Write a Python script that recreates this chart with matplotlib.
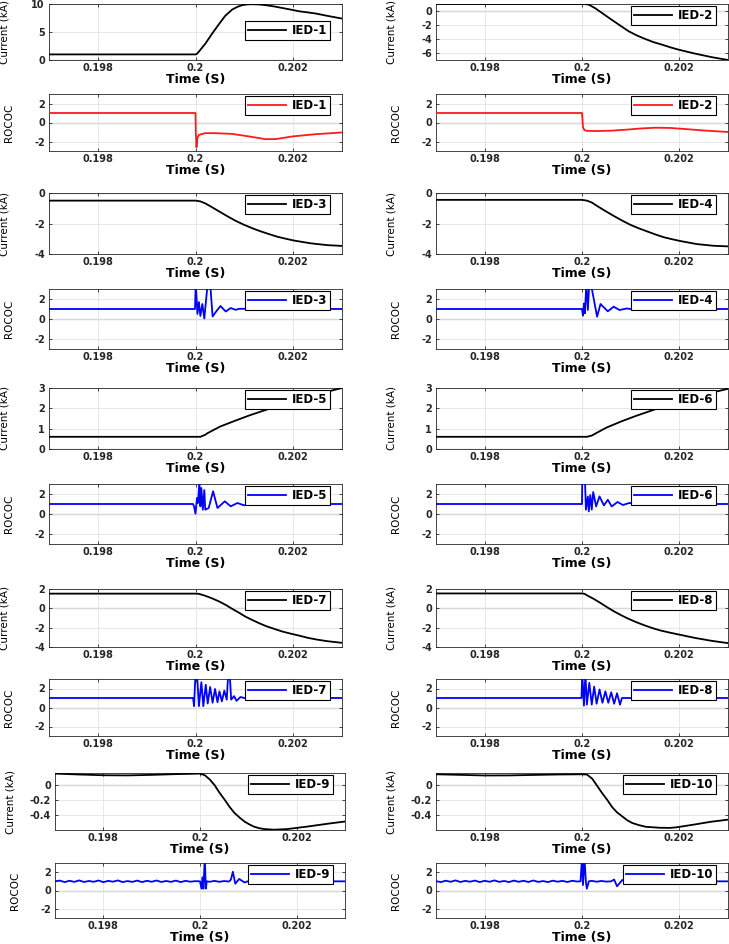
import numpy as np
import matplotlib.pyplot as plt
from matplotlib.ticker import FuncFormatter

# ---------------- current traces (kA) ----------------
IED1_T = [0.197, 0.1985, 0.2, 0.20003, 0.20007, 0.2002, 0.20034, 0.20048, 0.20061, 0.20075,
          0.20086, 0.20096, 0.20106, 0.20116, 0.2013, 0.20143, 0.2016, 0.20177, 0.20195,
          0.20212, 0.2023, 0.20246, 0.20272, 0.203]
IED1_I = [1.0, 1.0, 1.0, 1.1, 1.5, 2.9, 4.7, 6.4, 7.9, 9.0,
          9.5, 9.8, 9.93, 9.96, 9.92, 9.8, 9.58, 9.3, 9.0,
          8.7, 8.5, 8.3, 7.85, 7.4]

IED2_T = [0.197, 0.2, 0.20007, 0.20014, 0.20027, 0.2004, 0.20062, 0.2008, 0.20096, 0.20113,
          0.2013, 0.20147, 0.20164, 0.20182, 0.202, 0.20233, 0.20267, 0.203]
IED2_I = [1.0, 1.0, 0.98, 0.9, 0.4, -0.23, -1.3, -2.15, -2.9, -3.5,
          -4.0, -4.45, -4.8, -5.2, -5.55, -6.1, -6.6, -7.0]

IED3_T = [0.197, 0.2, 0.2001, 0.2002, 0.20031, 0.20048, 0.20065, 0.20082, 0.20099, 0.20117,
          0.20134, 0.20151, 0.20168, 0.20185, 0.20202, 0.20236, 0.2027, 0.203]
IED3_I = [-0.5, -0.5, -0.55, -0.68, -0.88, -1.2, -1.52, -1.82, -2.08, -2.32,
          -2.52, -2.7, -2.87, -3.0, -3.12, -3.3, -3.42, -3.47]

IED4_T = [0.197, 0.2, 0.2001, 0.2002, 0.20031, 0.20048, 0.20065, 0.20082, 0.20099, 0.20117,
          0.20134, 0.20151, 0.20168, 0.20185, 0.20202, 0.20236, 0.2027, 0.203]
IED4_I = [-0.45, -0.45, -0.5, -0.62, -0.85, -1.18, -1.5, -1.8, -2.08, -2.32,
          -2.52, -2.72, -2.9, -3.03, -3.15, -3.35, -3.46, -3.5]

IED5_T = [0.197, 0.2001, 0.2002, 0.20024, 0.2005, 0.2008, 0.2011, 0.2015, 0.2018, 0.202,
          0.2025, 0.203]
IED5_I = [0.6, 0.6, 0.7, 0.77, 1.1, 1.38, 1.65, 1.97, 2.2, 2.38,
          2.7, 3.0]

IED6_T = [0.197, 0.2001, 0.2002, 0.20026, 0.2005, 0.2008, 0.2011, 0.2015, 0.2018, 0.202,
          0.2025, 0.203]
IED6_I = [0.6, 0.6, 0.66, 0.74, 1.05, 1.35, 1.62, 1.95, 2.18, 2.35,
          2.68, 2.96]

IED7_T = [0.197, 0.2, 0.20007, 0.2002, 0.20034, 0.20048, 0.20062, 0.20075, 0.20089, 0.20102,
          0.20116, 0.2013, 0.20144, 0.20161, 0.20178, 0.20195, 0.20212, 0.2023, 0.20247,
          0.2027, 0.203]
IED7_I = [1.52, 1.52, 1.5, 1.3, 1.03, 0.72, 0.35, -0.05, -0.45, -0.85,
          -1.2, -1.53, -1.83, -2.12, -2.4, -2.62, -2.82, -3.05, -3.22,
          -3.4, -3.57]

IED8_T = [0.197, 0.2, 0.20005, 0.20012, 0.20025, 0.20039, 0.20052, 0.20066, 0.2008, 0.20094,
          0.20111, 0.20128, 0.20145, 0.20162, 0.20181, 0.202, 0.20231, 0.20265, 0.203]
IED8_I = [1.54, 1.54, 1.5, 1.3, 0.95, 0.52, 0.1, -0.32, -0.7, -1.05,
          -1.42, -1.75, -2.05, -2.3, -2.52, -2.72, -3.05, -3.35, -3.6]

IED9_T = [0.197, 0.1975, 0.198, 0.1985, 0.199, 0.1995, 0.2, 0.2001, 0.2002, 0.2003,
          0.2004, 0.20051, 0.20061, 0.20071, 0.20082, 0.20092, 0.20102, 0.20112, 0.20122,
          0.20132, 0.20153, 0.2018, 0.2022, 0.20268, 0.203]
IED9_I = [0.152, 0.14, 0.13, 0.128, 0.135, 0.145, 0.152, 0.13, 0.075, 0.0,
          -0.1, -0.196, -0.29, -0.37, -0.435, -0.487, -0.525, -0.556, -0.575,
          -0.587, -0.596, -0.588, -0.556, -0.513, -0.487]

IED10_T = [0.197, 0.1975, 0.198, 0.1985, 0.199, 0.1995, 0.2, 0.2001, 0.20021, 0.20031,
           0.20041, 0.20052, 0.20062, 0.20072, 0.20083, 0.20093, 0.20103, 0.20117, 0.20131,
           0.20159, 0.2018, 0.20193, 0.20228, 0.20265, 0.203]
IED10_I = [0.143, 0.135, 0.127, 0.128, 0.134, 0.14, 0.143, 0.14, 0.084, -0.01,
           -0.105, -0.2, -0.295, -0.365, -0.42, -0.47, -0.506, -0.535, -0.557,
           -0.57, -0.572, -0.565, -0.53, -0.49, -0.462]

# ---------------- ROCOC traces ----------------
IED1_RT = [0.197, 0.2, 0.200005, 0.20002, 0.20004, 0.20007, 0.2002, 0.2004, 0.20075,
           0.2011, 0.20143, 0.20164, 0.20198, 0.20246, 0.203]
IED1_R = [1.0, 1.0, -1.0, -2.6, -1.6, -1.3, -1.12, -1.12, -1.2,
          -1.47, -1.75, -1.75, -1.47, -1.23, -1.05]

IED2_RT = [0.197, 0.2, 0.20002, 0.20005, 0.2001, 0.2003, 0.2006, 0.2009, 0.2012, 0.2015,
           0.2018, 0.2021, 0.2025, 0.203]
IED2_R = [1.0, 1.0, -0.5, -0.8, -0.88, -0.9, -0.86, -0.76, -0.63, -0.55,
          -0.57, -0.68, -0.84, -1.0]

IED3_RT = [0.197, 0.19999, 0.200005, 0.20004, 0.20007, 0.2001, 0.20014, 0.20018, 0.20025,
           0.2003, 0.20035, 0.2004, 0.20051, 0.20062, 0.20072, 0.20082, 0.2009, 0.203]
IED3_R = [1.0, 1.0, 3.6, 0.5, 1.7, 0.3, 1.5, 0.05, 3.6,
          3.6, 0.25, 0.6, 1.3, 0.75, 1.1, 0.92, 1.02, 1.0]

IED4_RT = [0.197, 0.2, 0.20002, 0.20004, 0.20006, 0.20009, 0.20012, 0.20015, 0.20018,
           0.20031, 0.20038, 0.20053, 0.20065, 0.20077, 0.20092, 0.201, 0.203]
IED4_R = [1.0, 1.0, 0.33, 1.55, 0.57, 3.6, 0.9, 3.6, 3.6,
          0.23, 1.5, 0.77, 1.23, 0.9, 1.05, 1.0, 1.0]

IED5_RT = [0.197, 0.19995, 0.19997, 0.2, 0.20003, 0.20005, 0.20008, 0.2001, 0.20012, 0.20015,
           0.20018, 0.2002, 0.20027, 0.20036, 0.20045, 0.2006, 0.20072, 0.20086, 0.20099,
           0.20116, 0.203]
IED5_R = [1.0, 1.0, 0.77, 0.03, 1.6, 1.1, 3.2, 0.77, 2.6, 0.43,
          2.4, 0.43, 0.6, 2.27, 0.6, 1.27, 0.77, 1.1, 0.87,
          1.0, 1.0]

IED6_RT = [0.197, 0.2, 0.200005, 0.20006, 0.20008, 0.20012, 0.20014, 0.20017, 0.2002,
           0.20023, 0.20029, 0.20036, 0.20045, 0.20053, 0.20061, 0.20073, 0.20084, 0.20097,
           0.2011, 0.203]
IED6_R = [1.0, 1.0, 3.6, 3.6, 0.43, 1.75, 0.26, 1.9, 0.43,
          2.2, 0.76, 1.76, 0.86, 1.42, 0.76, 1.2, 0.9, 1.1,
          1.0, 1.0]

IED7_RT = [0.197, 0.19995, 0.19997, 0.2, 0.20003, 0.20007, 0.20012, 0.20016, 0.20021,
           0.20025, 0.2003, 0.20035, 0.2004, 0.20045, 0.20049, 0.20054, 0.20059, 0.20064,
           0.20067, 0.2007, 0.20073, 0.20079, 0.20084, 0.20092, 0.20103, 0.20116, 0.203]
IED7_R = [1.0, 1.0, 0.14, 3.6, 3.6, 0.14, 2.67, 0.14, 2.4,
          0.42, 2.16, 0.5, 1.95, 0.56, 1.7, 0.65, 1.77, 0.83,
          3.6, 3.6, 0.83, 1.2, 0.7, 1.1, 0.97, 1.0, 1.0]

IED8_RT = [0.197, 0.19999, 0.200005, 0.20004, 0.20007, 0.2001, 0.20015, 0.2002, 0.20025,
           0.2003, 0.20036, 0.20042, 0.20048, 0.20054, 0.2006, 0.20066, 0.20072, 0.20078,
           0.20082, 0.203]
IED8_R = [1.0, 1.0, 3.6, 0.2, 3.6, 0.3, 2.6, 0.3, 2.2,
          0.4, 1.9, 0.5, 1.7, 0.5, 1.6, 0.4, 1.5, 0.3,
          1.0, 1.0]

# pre-fault sampling instants for the noisy ROCOC of IED-9 / IED-10
PRE_T = [0.1970, 0.1971, 0.1972, 0.1973, 0.1974, 0.1975, 0.1976, 0.1977, 0.1978, 0.1979,
         0.1980, 0.1981, 0.1982, 0.1983, 0.1984, 0.1985, 0.1986, 0.1987, 0.1988, 0.1989,
         0.1990, 0.1991, 0.1992, 0.1993, 0.1994, 0.1995, 0.1996, 0.1997, 0.1998, 0.1999]

IED9_RT = PRE_T + [0.2, 0.20003, 0.20005, 0.20007, 0.2001, 0.20012, 0.20014, 0.2002, 0.2003,
                   0.2004, 0.2005, 0.2006, 0.20064, 0.20068, 0.20073, 0.20081, 0.20092,
                   0.20105, 0.20119, 0.20132, 0.203]
IED9_R = [1.0, 1.08, 0.92, 1.06, 0.94, 1.1, 0.93, 1.04, 0.95, 1.09,
          0.91, 1.05, 0.96, 1.1, 0.92, 1.03, 0.94, 1.08, 0.92, 1.06,
          0.95, 1.09, 0.93, 1.04, 0.94, 1.08, 0.92, 1.05, 0.96, 1.02] + \
         [1.0, 0.2, 1.44, 0.2, 3.6, 0.2, 1.0, 0.95, 1.05,
          0.95, 1.03, 0.98, 1.2, 2.05, 0.74, 1.26, 0.88,
          1.1, 0.95, 1.0, 1.0]

IED10_RT = PRE_T + [0.19997, 0.2, 0.20002, 0.20005, 0.20008, 0.2001, 0.20014, 0.2002, 0.2003,
                    0.2004, 0.2005, 0.2006, 0.20066, 0.20072, 0.20083, 0.20093, 0.20103,
                    0.20117, 0.20131, 0.203]
IED10_R = [1.02, 0.92, 1.07, 0.95, 1.1, 0.93, 1.05, 0.96, 1.08, 0.92,
           1.06, 0.95, 1.1, 0.94, 1.04, 0.92, 1.08, 0.95, 1.06, 0.93,
           1.09, 0.94, 1.03, 0.92, 1.07, 0.96, 1.05, 0.93, 1.06, 0.98] + \
          [1.0, 3.6, 0.6, 3.6, 0.9, 0.2, 1.0, 1.05, 0.96,
           1.04, 0.97, 1.0, 1.2, 0.46, 1.16, 0.74, 1.0,
           0.88, 1.0, 1.0]

CUR_T = [IED1_T, IED2_T, IED3_T, IED4_T, IED5_T, IED6_T, IED7_T, IED8_T, IED9_T, IED10_T]
CUR_I = [IED1_I, IED2_I, IED3_I, IED4_I, IED5_I, IED6_I, IED7_I, IED8_I, IED9_I, IED10_I]
ROC_T = [IED1_RT, IED2_RT, IED3_RT, IED4_RT, IED5_RT, IED6_RT, IED7_RT, IED8_RT, IED9_RT, IED10_RT]
ROC_R = [IED1_R, IED2_R, IED3_R, IED4_R, IED5_R, IED6_R, IED7_R, IED8_R, IED9_R, IED10_R]
LABELS = ['IED-%d' % k for k in range(1, 11)]

CUR_YLIM = [(0, 10), (-7, 1), (-4, 0), (-4, 0), (0, 3), (0, 3), (-4, 2), (-4, 2), (-0.6, 0.16), (-0.6, 0.16)]
CUR_YTICKS = [[0, 5, 10], [-6, -4, -2, 0], [-4, -2, 0], [-4, -2, 0], [0, 1, 2, 3], [0, 1, 2, 3],
              [-4, -2, 0, 2], [-4, -2, 0, 2], [-0.4, -0.2, 0], [-0.4, -0.2, 0]]
XTICKS = [0.198, 0.2, 0.202]

# layout in pixels (top, bottom) for the 10 rows of axes
ROWS = [(4, 60), (94, 151), (193, 254), (289, 349), (388, 449),
        (484, 544), (589, 647), (679, 736), (773, 830), (863, 918)]
W, H = 729, 944

fmt = FuncFormatter(lambda v, p: '%g' % v)


def make_ax(row, col):
    top, bot = ROWS[row]
    if col == 0:
        left, right = (55, 345) if row >= 8 else (49, 342)
    else:
        left, right = (436, 728)
    return fig.add_axes([left / W, 1 - bot / H, (right - left) / W, (bot - top) / H])


def style(ax, ylim, yticks, ylabel, lx):
    ax.set_xlim(0.197, 0.203)
    ax.set_ylim(*ylim)
    ax.set_xticks(XTICKS)
    ax.set_yticks(yticks)
    ax.xaxis.set_major_formatter(fmt)
    ax.yaxis.set_major_formatter(fmt)
    ax.grid(True, color='#e3e3e3', lw=0.6)
    ax.axhline(0, color='#a8a8a8', lw=0.9, zorder=1)
    ax.tick_params(direction='in', length=2.5, width=0.6, labelsize=7,
                   top=True, right=True, colors='#262626')
    ax.tick_params(axis='x', pad=2)
    ax.tick_params(axis='y', pad=3)
    for lab in ax.get_xticklabels() + ax.get_yticklabels():
        lab.set_fontweight('bold')
    for sp in ax.spines.values():
        sp.set_color('#262626')
        sp.set_linewidth(0.6)
    ax.set_xlabel('Time (S)', fontsize=9, fontweight='bold', labelpad=0)
    ax.set_ylabel(ylabel, fontsize=7.5)
    ax.yaxis.set_label_coords(lx, 0.5)


def legend(ax, anchor=(0.96, 0.96)):
    lg = ax.legend(loc='upper right', bbox_to_anchor=anchor, borderaxespad=0,
                   prop={'weight': 'bold', 'size': 8.5}, fancybox=False,
                   edgecolor='black', framealpha=1, handlelength=3.2,
                   handletextpad=0.5, borderpad=0.25)
    lg.get_frame().set_linewidth(0.8)


fig = plt.figure(figsize=(W / 100, H / 100), dpi=100)

for k in range(10):
    col = k % 2
    pair = k // 2

    ax = make_ax(2 * pair, col)
    ax.plot(CUR_T[k], CUR_I[k], color='black', lw=1.3, label=LABELS[k], zorder=3)
    style(ax, CUR_YLIM[k], CUR_YTICKS[k], 'Current (kA)', -0.135)
    legend(ax, (0.96, 0.69) if k == 0 else (0.96, 0.96))

    ax = make_ax(2 * pair + 1, col)
    clr = '#ff1a1a' if k < 2 else '#0000ff'
    ax.plot(ROC_T[k], ROC_R[k], color=clr, lw=1.3, label=LABELS[k], zorder=3)
    style(ax, (-3, 3), [-2, 0, 2], 'ROCOC', -0.12)
    legend(ax)

fig.savefig('out.png', dpi=100)
